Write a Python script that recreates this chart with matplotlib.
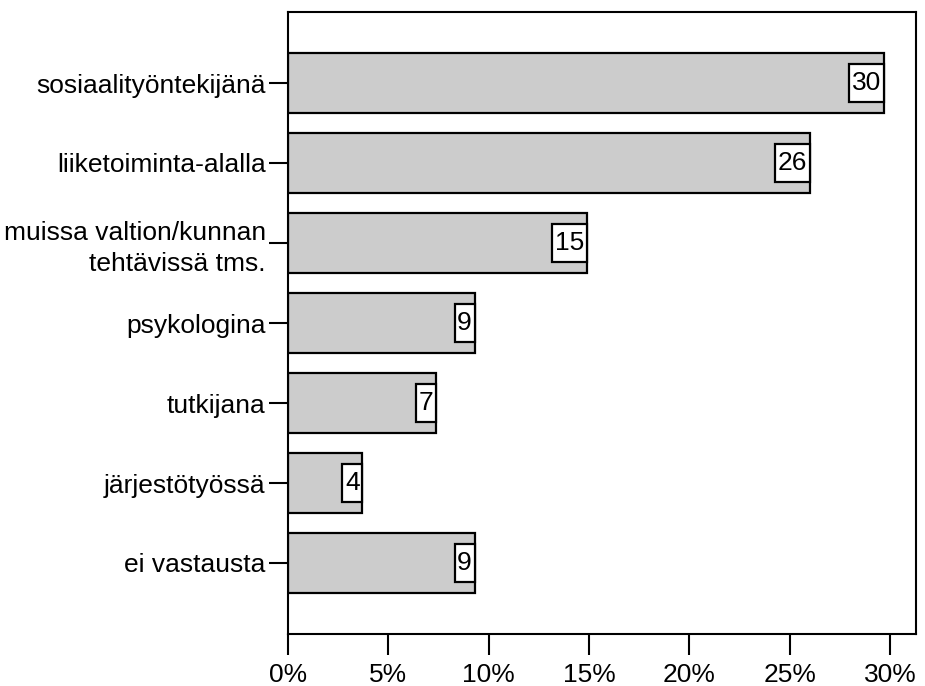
import matplotlib
matplotlib.use("Agg")
import matplotlib.pyplot as plt
from matplotlib.path import Path

categories = ["sosiaalityöntekijänä", "liiketoiminta-alalla",
              "muissa valtion/kunnan\ntehtävissä tms.", "psykologina",
              "tutkijana", "järjestötyössä", "ei vastausta"]
percents = [29.7, 26.0, 14.9, 9.3, 7.4, 3.7, 9.3]
counts = [30, 26, 15, 9, 7, 4, 9]
xticks = [0, 5, 10, 15, 20, 25, 30]
xticklabels = ["0%", "5%", "10%", "15%", "20%", "25%", "30%"]

plt.rcParams['font.family'] = ['Liberation Sans', 'DejaVu Sans']
FS = 19
PADX, PADY = 0.1, 0.26


def label_box(x0, y0, width, height, mutation_size):
    px = PADX * mutation_size
    py = PADY * mutation_size
    x0, y0 = x0 - px, y0 - py
    x1, y1 = x0 + width + 2 * px, y0 + height + 2 * py
    return Path([(x0, y0), (x1, y0), (x1, y1), (x0, y1), (x0, y0)], closed=True)


fig = plt.figure(figsize=(9.25, 6.86), dpi=100)
ax = fig.add_axes([288/925, 1-634/686, (916-288)/925, (634-12)/686])

ypos = list(range(len(categories)))
ax.barh(ypos, percents, height=0.75, color="#cccccc", edgecolor="black", linewidth=1.6)

for y, v, c in zip(ypos, percents, counts):
    ax.annotate(str(c), xy=(v, y), xytext=(-PADX * FS, 0), textcoords="offset points",
                ha="right", va="center", fontsize=FS,
                bbox=dict(boxstyle=label_box, fc="white", ec="black", lw=1.6))

ax.set_ylim(len(categories) - 1 + 0.8875, -0.8875)
ax.set_xlim(0, (916-288)/((890-288)/30))
ax.set_yticks(ypos)
ax.set_yticklabels(categories, fontsize=FS, linespacing=1.35)
ax.set_xticks(xticks)
ax.set_xticklabels(xticklabels, fontsize=FS)
ax.tick_params(axis="y", length=14, width=1.5, pad=2, labelsize=FS)
ax.tick_params(axis="x", length=15, width=1.5, pad=6, labelsize=FS)
for s in ax.spines.values():
    s.set_linewidth(1.5)

fig.savefig("out.png", dpi=100)
